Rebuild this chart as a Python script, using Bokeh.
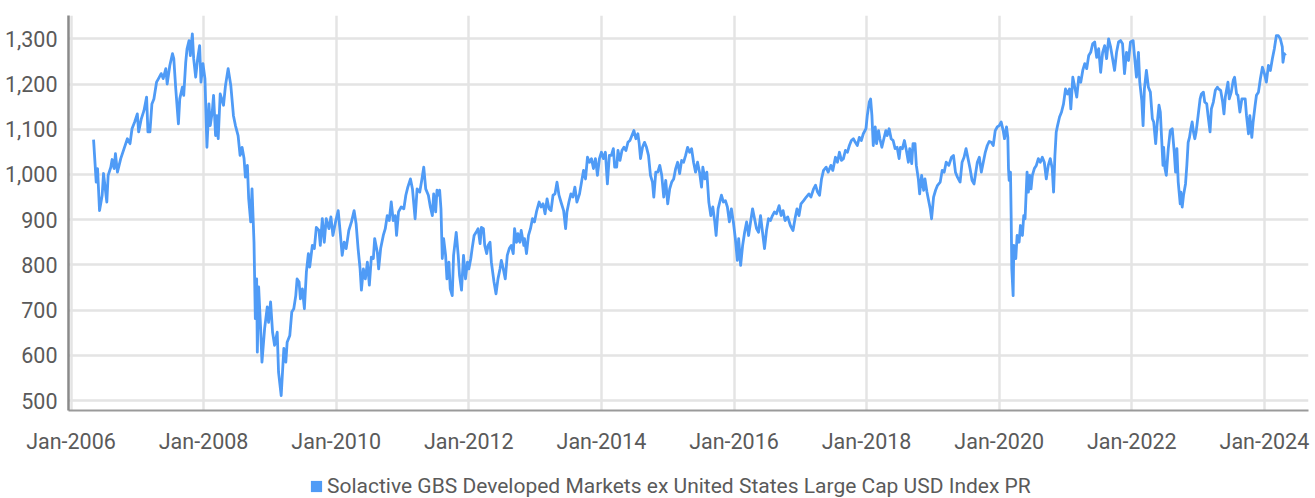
from bokeh.plotting import figure
from bokeh.layouts import column
from bokeh.models import Range1d, FixedTicker, NumeralTickFormatter, Legend, LegendItem, ColumnDataSource
from bokeh.core.properties import value
from bokeh.embed import file_html
from bokeh.resources import INLINE

# ---------------- data (decimal year, index level) ----------------
t_2006_2008 = [2006.34, 2006.38, 2006.40, 2006.43, 2006.47, 2006.49, 2006.54, 2006.56, 2006.60, 2006.62,
               2006.65, 2006.67, 2006.70, 2006.75, 2006.80, 2006.85, 2006.89, 2006.92, 2006.96, 2007.00,
               2007.02, 2007.06, 2007.10, 2007.14, 2007.16, 2007.19, 2007.22, 2007.25, 2007.29, 2007.32,
               2007.36, 2007.39, 2007.43, 2007.45, 2007.49, 2007.53, 2007.55, 2007.58, 2007.62, 2007.64,
               2007.68, 2007.70, 2007.73, 2007.75, 2007.78, 2007.80, 2007.83, 2007.85, 2007.88, 2007.91,
               2007.94, 2007.96, 2007.99, 2008.02, 2008.05, 2008.08, 2008.10, 2008.13, 2008.15, 2008.18,
               2008.20, 2008.22, 2008.25, 2008.30, 2008.33, 2008.37, 2008.41, 2008.45, 2008.48, 2008.52,
               2008.55, 2008.58, 2008.61, 2008.63, 2008.66, 2008.68, 2008.71, 2008.73, 2008.76]
v_2006_2008 = [1077, 983, 1013, 920, 954, 1002, 939, 998, 1016, 1033,
               1013, 1046, 1005, 1035, 1057, 1079, 1068, 1101, 1116, 1134,
               1094, 1123, 1141, 1171, 1094, 1094, 1156, 1167, 1204, 1212,
               1223, 1212, 1234, 1200, 1241, 1267, 1256, 1189, 1112, 1167,
               1193, 1175, 1248, 1278, 1296, 1263, 1311, 1256, 1215, 1256,
               1285, 1204, 1245, 1212, 1060, 1156, 1108, 1138, 1175, 1086,
               1130, 1079, 1178, 1153, 1197, 1234, 1197, 1130, 1108, 1086,
               1042, 1060, 1035, 994, 1020, 946, 895, 968, 850]

t_2008_2011 = [2008.78, 2008.80, 2008.81, 2008.83, 2008.86, 2008.88, 2008.92, 2008.96, 2008.98, 2009.01,
               2009.04, 2009.07, 2009.11, 2009.13, 2009.17, 2009.21, 2009.24, 2009.26, 2009.30, 2009.33,
               2009.36, 2009.39, 2009.41, 2009.44, 2009.46, 2009.49, 2009.52, 2009.55, 2009.58, 2009.60,
               2009.64, 2009.67, 2009.70, 2009.74, 2009.76, 2009.79, 2009.82, 2009.85, 2009.89, 2009.92,
               2009.95, 2009.99, 2010.03, 2010.06, 2010.09, 2010.12, 2010.15, 2010.19, 2010.23, 2010.27,
               2010.30, 2010.33, 2010.36, 2010.38, 2010.41, 2010.44, 2010.47, 2010.50, 2010.53, 2010.56,
               2010.58, 2010.62, 2010.64, 2010.67, 2010.71, 2010.74, 2010.77, 2010.80, 2010.83, 2010.86,
               2010.89, 2010.91, 2010.94, 2010.98, 2011.02, 2011.05, 2011.08, 2011.12, 2011.15, 2011.19,
               2011.22, 2011.26, 2011.29, 2011.32, 2011.35, 2011.39]
v_2008_2011 = [681, 769, 607, 751, 659, 585, 659, 707, 673, 718,
               651, 622, 651, 563, 511, 615, 585, 629, 644, 696,
               703, 732, 769, 762, 725, 747, 703, 784, 825, 795,
               843, 836, 883, 876, 843, 902, 850, 902, 880, 906,
               865, 895, 920, 872, 821, 850, 836, 876, 895, 920,
               891, 836, 791, 744, 791, 769, 806, 755, 817, 814,
               858, 828, 791, 836, 865, 880, 909, 898, 939, 898,
               909, 865, 917, 928, 924, 954, 972, 990, 968, 902,
               968, 961, 987, 1016, 968, 954]

t_2011_2014 = [2011.42, 2011.45, 2011.47, 2011.50, 2011.52, 2011.55, 2011.56, 2011.58, 2011.60, 2011.62,
               2011.65, 2011.67, 2011.70, 2011.72, 2011.75, 2011.77, 2011.81, 2011.84, 2011.86, 2011.89,
               2011.92, 2011.95, 2011.98, 2012.00, 2012.03, 2012.05, 2012.08, 2012.11, 2012.14, 2012.17,
               2012.19, 2012.22, 2012.24, 2012.27, 2012.29, 2012.32, 2012.34, 2012.38, 2012.41, 2012.44,
               2012.47, 2012.49, 2012.52, 2012.55, 2012.58, 2012.61, 2012.64, 2012.67, 2012.69, 2012.72,
               2012.74, 2012.77, 2012.79, 2012.83, 2012.84, 2012.87, 2012.90, 2012.93, 2012.96, 2012.99,
               2013.02, 2013.06, 2013.09, 2013.12, 2013.15, 2013.18, 2013.21, 2013.24, 2013.27, 2013.30,
               2013.33, 2013.36, 2013.39, 2013.43, 2013.46, 2013.48, 2013.51, 2013.54, 2013.57, 2013.60,
               2013.63, 2013.67, 2013.70, 2013.73, 2013.76, 2013.79, 2013.82, 2013.85, 2013.88, 2013.91,
               2013.94, 2013.97, 2014.00, 2014.03, 2014.06, 2014.09, 2014.12]
v_2011_2014 = [928, 909, 957, 917, 965, 954, 965, 924, 814, 858,
               821, 769, 806, 747, 732, 821, 872, 821, 777, 744,
               821, 769, 806, 791, 814, 836, 865, 872, 880, 847,
               883, 880, 843, 825, 843, 850, 806, 762, 736, 769,
               791, 810, 791, 769, 821, 836, 843, 825, 880, 850,
               869, 850, 876, 843, 858, 825, 865, 880, 902, 895,
               917, 939, 928, 935, 913, 946, 924, 920, 954, 957,
               983, 954, 939, 920, 880, 917, 939, 957, 950, 972,
               939, 957, 983, 1009, 990, 1038, 1027, 1035, 1013, 1035,
               998, 1035, 1049, 1035, 1049, 979, 1042]

t_2014_2016 = [2014.15, 2014.18, 2014.20, 2014.23, 2014.25, 2014.28, 2014.31, 2014.34, 2014.37, 2014.40,
               2014.43, 2014.46, 2014.49, 2014.52, 2014.55, 2014.57, 2014.59, 2014.62, 2014.65, 2014.68,
               2014.71, 2014.74, 2014.77, 2014.79, 2014.82, 2014.85, 2014.88, 2014.91, 2014.94, 2014.97,
               2015.00, 2015.03, 2015.06, 2015.09, 2015.12, 2015.15, 2015.18, 2015.21, 2015.24, 2015.27,
               2015.30, 2015.33, 2015.36, 2015.39, 2015.42, 2015.45, 2015.48, 2015.51, 2015.53, 2015.56,
               2015.59, 2015.62, 2015.65, 2015.68, 2015.71, 2015.73, 2015.76, 2015.79, 2015.81, 2015.84,
               2015.87, 2015.90, 2015.93, 2015.96, 2015.99, 2016.02, 2016.05, 2016.07, 2016.10, 2016.13,
               2016.16, 2016.19, 2016.22, 2016.25, 2016.28, 2016.31, 2016.34, 2016.37, 2016.40, 2016.43,
               2016.46, 2016.49, 2016.52, 2016.55, 2016.58, 2016.61, 2016.64, 2016.68, 2016.71, 2016.74,
               2016.77]
v_2014_2016 = [1042, 1057, 1016, 1016, 1053, 1031, 1053, 1060, 1053, 1071,
               1075, 1086, 1097, 1079, 1090, 1068, 1035, 1060, 1071, 1060,
               1042, 998, 983, 950, 1005, 1005, 1020, 998, 950, 987,
               935, 968, 983, 990, 1013, 1027, 1002, 1031, 1027, 1042,
               1060, 1049, 1057, 1027, 1005, 1027, 1005, 972, 1016, 990,
               1005, 939, 909, 928, 895, 865, 924, 942, 954, 939,
               942, 928, 895, 924, 895, 858, 810, 858, 799, 843,
               872, 895, 865, 895, 924, 902, 880, 872, 909, 872,
               836, 876, 902, 898, 909, 917, 913, 931, 909, 920,
               898]

t_2016_2019 = [2016.81, 2016.85, 2016.89, 2016.92, 2016.95, 2016.98, 2017.01, 2017.05, 2017.09, 2017.13,
               2017.16, 2017.20, 2017.23, 2017.26, 2017.29, 2017.32, 2017.35, 2017.39, 2017.42, 2017.46,
               2017.49, 2017.53, 2017.56, 2017.59, 2017.62, 2017.65, 2017.68, 2017.71, 2017.74, 2017.77,
               2017.80, 2017.83, 2017.86, 2017.89, 2017.92, 2017.95, 2017.99, 2018.01, 2018.04, 2018.06,
               2018.08, 2018.10, 2018.13, 2018.15, 2018.18, 2018.20, 2018.23, 2018.26, 2018.29, 2018.31,
               2018.34, 2018.37, 2018.40, 2018.43, 2018.46, 2018.49, 2018.51, 2018.54, 2018.57, 2018.60,
               2018.63, 2018.65, 2018.68, 2018.70, 2018.73, 2018.75, 2018.78, 2018.80, 2018.83, 2018.86,
               2018.88, 2018.91, 2018.93, 2018.96, 2018.98, 2019.01, 2019.04, 2019.07, 2019.11, 2019.14,
               2019.17, 2019.20, 2019.24, 2019.28, 2019.31, 2019.34, 2019.37]
v_2016_2019 = [906, 887, 876, 902, 924, 909, 935, 942, 950, 957,
               950, 968, 976, 961, 954, 990, 1009, 1016, 1005, 1020,
               1009, 1038, 1027, 1049, 1031, 1035, 1053, 1049, 1064, 1075,
               1079, 1071, 1064, 1082, 1075, 1090, 1101, 1130, 1160, 1167,
               1130, 1064, 1105, 1068, 1097, 1079, 1060, 1079, 1097, 1086,
               1101, 1079, 1075, 1057, 1060, 1035, 1060, 1057, 1075, 1053,
               1027, 1057, 1024, 1068, 1068, 1020, 990, 957, 998, 965,
               990, 961, 946, 924, 902, 950, 965, 976, 983, 1009,
               1005, 1027, 1020, 1038, 1042, 1005, 994]

t_2019_2021 = [2019.41, 2019.44, 2019.47, 2019.50, 2019.53, 2019.56, 2019.59, 2019.62, 2019.64, 2019.67,
               2019.70, 2019.73, 2019.76, 2019.79, 2019.82, 2019.85, 2019.88, 2019.91, 2019.94, 2019.97,
               2020.00, 2020.03, 2020.06, 2020.08, 2020.11, 2020.13, 2020.14, 2020.15, 2020.17, 2020.18,
               2020.19, 2020.21, 2020.22, 2020.25, 2020.27, 2020.30, 2020.32, 2020.35, 2020.37, 2020.39,
               2020.42, 2020.44, 2020.46, 2020.48, 2020.50, 2020.53, 2020.56, 2020.59, 2020.62, 2020.65,
               2020.68, 2020.71, 2020.74, 2020.77, 2020.80, 2020.82, 2020.84, 2020.86, 2020.88, 2020.91,
               2020.94, 2020.97, 2021.00, 2021.03, 2021.06, 2021.08, 2021.11, 2021.14, 2021.17, 2021.20,
               2021.23, 2021.26, 2021.29, 2021.32, 2021.35, 2021.38, 2021.41, 2021.44, 2021.47, 2021.50,
               2021.53, 2021.56, 2021.59, 2021.62, 2021.65, 2021.68, 2021.71, 2021.74, 2021.77, 2021.80,
               2021.83, 2021.86, 2021.89, 2021.92, 2021.95, 2021.98]
v_2019_2021 = [983, 1027, 1038, 1057, 1035, 1013, 987, 979, 998, 1027,
               1038, 1005, 1027, 1049, 1064, 1073, 1071, 1064, 1097, 1105,
               1108, 1116, 1097, 1079, 1105, 1082, 1013, 987, 1005, 909,
               791, 732, 843, 814, 865, 850, 887, 865, 909, 902,
               1005, 961, 998, 968, 998, 1013, 1020, 1035, 1027, 1038,
               1027, 990, 1020, 1035, 1013, 961, 1042, 1094, 1108, 1127,
               1138, 1156, 1189, 1178, 1189, 1145, 1215, 1193, 1171, 1215,
               1204, 1230, 1245, 1234, 1263, 1270, 1289, 1293, 1259, 1278,
               1226, 1270, 1285, 1256, 1300, 1282, 1256, 1230, 1270, 1293,
               1296, 1289, 1223, 1270, 1252, 1293]

t_2022_2024 = [2022.02, 2022.04, 2022.07, 2022.10, 2022.12, 2022.15, 2022.17, 2022.19, 2022.22, 2022.25,
               2022.28, 2022.31, 2022.33, 2022.36, 2022.38, 2022.41, 2022.43, 2022.45, 2022.47, 2022.48,
               2022.50, 2022.52, 2022.55, 2022.58, 2022.61, 2022.64, 2022.66, 2022.68, 2022.70, 2022.73,
               2022.74, 2022.76, 2022.78, 2022.81, 2022.83, 2022.85, 2022.87, 2022.89, 2022.91, 2022.93,
               2022.95, 2022.97, 2023.00, 2023.03, 2023.05, 2023.08, 2023.10, 2023.13, 2023.15, 2023.18,
               2023.20, 2023.23, 2023.26, 2023.29, 2023.31, 2023.34, 2023.37, 2023.39, 2023.41, 2023.45,
               2023.47, 2023.50, 2023.53, 2023.55, 2023.58, 2023.60, 2023.63, 2023.66, 2023.68, 2023.71,
               2023.73, 2023.76, 2023.78, 2023.81, 2023.83, 2023.86, 2023.88, 2023.91, 2023.94, 2023.97,
               2024.00, 2024.03, 2024.06, 2024.09, 2024.12, 2024.15, 2024.18, 2024.21, 2024.24, 2024.27,
               2024.28, 2024.30, 2024.32]
v_2022_2024 = [1296, 1263, 1215, 1270, 1204, 1164, 1108, 1189, 1230, 1193,
               1182, 1123, 1116, 1068, 1108, 1153, 1138, 1079, 1020, 1060,
               1013, 998, 1057, 1097, 1101, 1049, 1005, 1057, 983, 935,
               961, 928, 954, 979, 1020, 1071, 1082, 1101, 1116, 1094,
               1079, 1094, 1130, 1167, 1178, 1182, 1160, 1156, 1130, 1094,
               1145, 1160, 1186, 1193, 1189, 1186, 1160, 1134, 1171, 1204,
               1167, 1182, 1208, 1215, 1178, 1175, 1138, 1167, 1167, 1167,
               1130, 1090, 1130, 1082, 1116, 1153, 1175, 1182, 1212, 1237,
               1223, 1204, 1241, 1230, 1256, 1278, 1307, 1307, 1300, 1282,
               1248, 1267, 1263]

tick_years = [2006, 2008, 2010, 2012, 2014, 2016, 2018, 2020, 2022, 2024]
tick_labels = ["Jan-2006", "Jan-2008", "Jan-2010", "Jan-2012", "Jan-2014",
               "Jan-2016", "Jan-2018", "Jan-2020", "Jan-2022", "Jan-2024"]
y_ticks = [500, 600, 700, 800, 900, 1000, 1100, 1200, 1300]
series_name = "Solactive GBS Developed Markets ex United States Large Cap USD Index PR"

# ---------------- assemble ----------------
t_all = (t_2006_2008 + t_2008_2011 + t_2011_2014 + t_2014_2016 +
         t_2016_2019 + t_2019_2021 + t_2022_2024)
v_all = (v_2006_2008 + v_2008_2011 + v_2011_2014 + v_2014_2016 +
         v_2016_2019 + v_2019_2021 + v_2022_2024)
src = ColumnDataSource(data=dict(t=t_all, v=v_all))

FONT = "Roboto"
FS = "21.5px"
TXT = "#5a5a5a"
LINE = "#4f9bf6"
GRID = "#e4e4e4"

# ---------------- main chart ----------------
p = figure(frame_width=1240, frame_height=395, output_backend="svg", toolbar_location=None,
           x_range=Range1d(2005.962, 2024.665), y_range=Range1d(477.9, 1351.5),
           min_border_left=68, min_border_right=5, min_border_top=15, min_border_bottom=50,
           background_fill_color="white", border_fill_color="white")
p.outline_line_color = None

p.line("t", "v", source=src, line_color=LINE, line_width=2.8, line_join="round")

p.xaxis.ticker = FixedTicker(ticks=tick_years)
p.xaxis.major_label_overrides = {y: l for y, l in zip(tick_years, tick_labels)}
p.yaxis.ticker = FixedTicker(ticks=y_ticks)
p.yaxis.formatter = NumeralTickFormatter(format="0,0")

for ax in (p.xaxis[0], p.yaxis[0]):
    ax.major_tick_line_color = None
    ax.minor_tick_line_color = None
    ax.major_label_text_font = FONT
    ax.major_label_text_font_size = FS
    ax.major_label_text_color = TXT
p.yaxis.axis_line_color = "#8a8a8a"
p.yaxis.axis_line_width = 2.5
p.yaxis.major_label_standoff = 5
p.xaxis.axis_line_color = "#9a9a9a"
p.xaxis.axis_line_width = 2
p.xaxis.major_label_standoff = 12

p.xgrid.grid_line_color = GRID
p.xgrid.grid_line_width = 2.5
p.ygrid.grid_line_color = GRID
p.ygrid.grid_line_width = 2.5

# ---------------- legend strip ----------------
lg = figure(width=1315, height=48, output_backend="svg", toolbar_location=None,
            x_axis_location=None, y_axis_location=None, min_border=0,
            background_fill_color="white", border_fill_color="white")
lg.outline_line_color = None
lg.xgrid.visible = False
lg.ygrid.visible = False
sw = lg.rect(x=t_all[:1], y=v_all[:1], width=0, height=0, fill_color=LINE, line_color=None)
legend = Legend(items=[LegendItem(label=value(series_name), renderers=[sw])],
                location=(241, 10), orientation="horizontal",
                glyph_width=14, glyph_height=14, label_standoff=4,
                label_text_font=FONT, label_text_font_size="21px", label_text_color=TXT,
                border_line_color=None, background_fill_alpha=0,
                padding=0, margin=0, spacing=0)
lg.add_layout(legend, "center")

open("out.html", "w").write(file_html(column(p, lg, spacing=0), INLINE))
